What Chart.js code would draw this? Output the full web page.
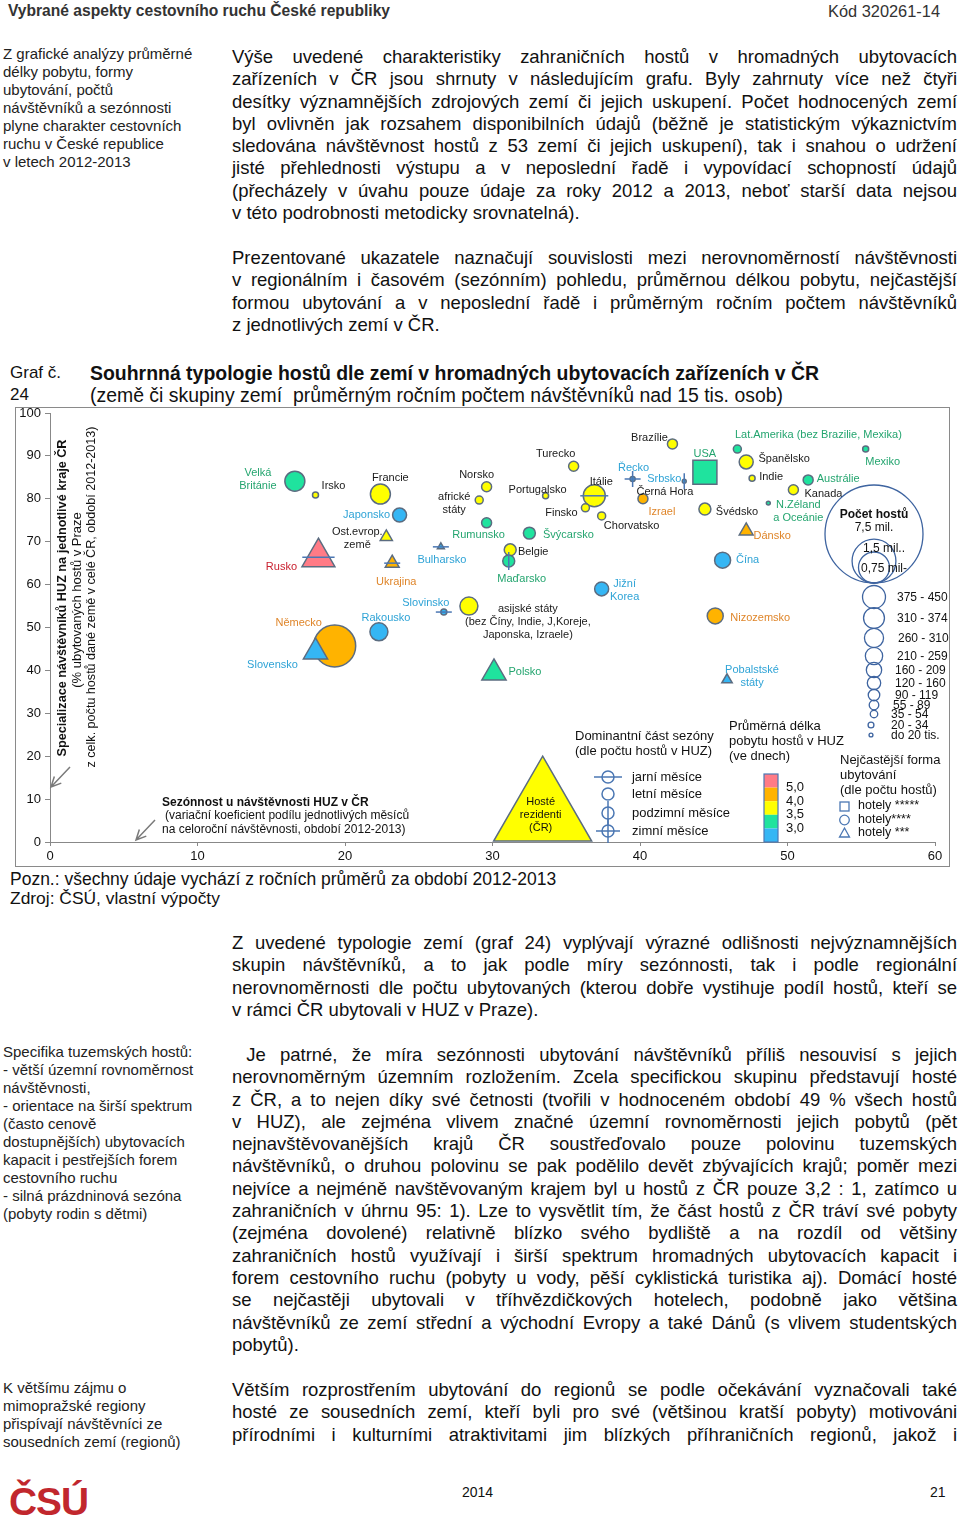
<!DOCTYPE html>
<html>
<head>
<meta charset="utf-8">
<script src="https://cdn.jsdelivr.net/npm/chart.js@4.4.1/dist/chart.umd.min.js"></script>
<style>
body{margin:0;width:960px;height:1525px;position:relative;overflow:hidden;background:#fff;color:#111;font-family:"Liberation Sans",Arial,sans-serif}
.a{position:absolute;white-space:nowrap}
.par{position:absolute;left:232px;width:725px;font-size:18.5px;line-height:22.3px;color:#111}
.par div{text-align:justify;text-align-last:justify;white-space:nowrap}
.par div.l{text-align-last:left}
.side{position:absolute;left:3px;font-size:15px;line-height:18px;color:#222;white-space:nowrap}
#frame{position:absolute;left:15px;top:407px;width:935px;height:460px;border:1px solid #8a8a8a;box-sizing:border-box}
#chart{position:absolute;left:0;top:0}
</style>
</head>
<body>

<div class="a" style="left:8px;top:2px;font:bold 15px/18px 'Liberation Sans';color:#333" data-w="382">Vybrané aspekty cestovního ruchu České republiky</div>
<div class="a" style="left:828px;top:2px;font:15px/18px 'Liberation Sans';color:#333" data-w="112">Kód  320261-14</div>

<div class="side" style="top:45px">Z grafické analýzy průměrné<br>délky pobytu, formy<br>ubytování, počtů<br>návštěvníků a sezónnosti<br>plyne charakter cestovních<br>ruchu v České republice<br>v letech 2012-2013</div>

<div class="par" style="top:46px">
<div>Výše uvedené charakteristiky zahraničních hostů v hromadných ubytovacích</div>
<div>zařízeních v ČR jsou shrnuty v následujícím grafu. Byly zahrnuty více než čtyři</div>
<div>desítky významnějších zdrojových zemí či jejich uskupení. Počet hodnocených zemí</div>
<div>byl ovlivněn jak rozsahem disponibilních údajů (běžně je statistickým výkaznictvím</div>
<div>sledována návštěvnost hostů z 53 zemí či jejich uskupení), tak i snahou o udržení</div>
<div>jisté přehlednosti výstupu a v neposlední řadě i vypovídací schopností údajů</div>
<div>(přecházely v úvahu pouze údaje za roky 2012 a 2013, neboť starší data nejsou</div>
<div class="l">v této podrobnosti metodicky srovnatelná).</div>
</div>

<div class="par" style="top:247px">
<div>Prezentované ukazatele naznačují souvislosti mezi nerovnoměrností návštěvnosti</div>
<div>v regionálním i časovém (sezónním) pohledu, průměrnou délkou pobytu, nejčastější</div>
<div>formou ubytování a v neposlední řadě i průměrným ročním počtem návštěvníků</div>
<div class="l">z jednotlivých zemí v ČR.</div>
</div>

<div class="a" style="left:10px;top:362px;font:17px/21.5px 'Liberation Sans'">Graf č.<br>24</div>
<div class="a" style="left:90px;top:362px;font:bold 17px/22px 'Liberation Sans'" data-w="729">Souhrnná typologie hostů dle zemí v hromadných ubytovacích zařízeních v ČR</div>
<div class="a" style="left:90px;top:384px;font:17px/22px 'Liberation Sans'" data-w="693">(země či skupiny zemí&nbsp; průměrným ročním počtem návštěvníků nad 15 tis. osob)</div>

<div id="frame"><canvas id="chart" width="933" height="458"></canvas></div>

<div class="a" style="left:10px;top:870px;font:16px/19px 'Liberation Sans'" data-w="546">Pozn.: všechny údaje vychází z ročních průměrů za období 2012-2013</div>
<div class="a" style="left:10px;top:889px;font:16px/19px 'Liberation Sans'" data-w="210">Zdroj: ČSÚ, vlastní výpočty</div>

<div class="par" style="top:932px">
<div>Z uvedené typologie zemí (graf 24) vyplývají výrazné odlišnosti nejvýznamnějších</div>
<div>skupin návštěvníků, a to jak podle míry sezónnosti, tak i podle regionální</div>
<div>nerovnoměrnosti dle počtu ubytovaných (kterou dobře vystihuje podíl hostů, kteří se</div>
<div class="l">v rámci ČR ubytovali v HUZ v Praze).</div>
</div>

<div class="side" style="top:1043px">Specifika tuzemských hostů:<br>- větší územní rovnoměrnost<br>návštěvnosti,<br>- orientace na širší spektrum<br>(často cenově<br>dostupnějších) ubytovacích<br>kapacit i pestřejších forem<br>cestovního ruchu<br>- silná prázdninová sezóna<br>(pobyty rodin s dětmi)</div>

<div class="par" style="top:1044px">
<div>&nbsp;Je patrné, že míra sezónnosti ubytování návštěvníků příliš nesouvisí s jejich</div>
<div>nerovnoměrným územním rozložením. Zcela specifickou skupinu představují hosté</div>
<div>z ČR, a to nejen díky své četnosti (tvořili v hodnoceném období 49 % všech hostů</div>
<div>v HUZ), ale zejména vlivem značné územní rovnoměrnosti jejich pobytů (pět</div>
<div>nejnavštěvovanějších krajů ČR soustřeďovalo pouze polovinu tuzemských</div>
<div>návštěvníků, o druhou polovinu se pak podělilo devět zbývajících krajů; poměr mezi</div>
<div>nejvíce a nejméně navštěvovaným krajem byl u hostů z ČR pouze 3,2 : 1, zatímco u</div>
<div>zahraničních v úhrnu 95: 1). Lze to vysvětlit tím, že část hostů z ČR tráví své pobyty</div>
<div>(zejména dovolené) relativně blízko svého bydliště a na rozdíl od většiny</div>
<div>zahraničních hostů využívají i širší spektrum hromadných ubytovacích kapacit i</div>
<div>forem cestovního ruchu (pobyty u vody, pěší cyklistická turistika aj). Domácí hosté</div>
<div>se nejčastěji ubytovali v tříhvězdičkových hotelech, podobně jako většina</div>
<div>návštěvníků ze zemí střední a východní Evropy a také Dánů (s vlivem studentských</div>
<div class="l">pobytů).</div>
</div>

<div class="side" style="top:1379px">K většímu zájmu o<br>mimopražské regiony<br>přispívají návštěvníci ze<br>sousedních zemí (regionů)</div>

<div class="par" style="top:1379px">
<div>Větším rozprostřením ubytování do regionů se podle očekávání vyznačovali také</div>
<div>hosté ze sousedních zemí, kteří byli pro své (většinou kratší pobyty) motivováni</div>
<div>přírodními i kulturními atraktivitami jim blízkých příhraničních regionů, jakož i</div>
</div>

<div class="a" style="left:9px;top:1481px;font:bold 42px/42px 'Liberation Sans';color:#c1272d;letter-spacing:-1px" data-w="79">ČSÚ</div>
<div class="a" style="left:462px;top:1484px;font:14px/16px 'Liberation Sans'">2014</div>
<div class="a" style="left:930px;top:1484px;font:14px/16px 'Liberation Sans'">21</div>

<script>
// hodnoty (období 2012-2013)
const countries = ['Hosté\nrezidenti\n(ČR)', 'Velká\nBritánie', 'Irsko', 'Francie', 'Japonsko', 'Ost.evrop.\nzemě',
  'Rusko', 'Ukrajina', 'Bulharsko', 'Slovinsko', 'Rakousko', 'Německo', 'Slovensko', 'Norsko', 'africké\nstáty',
  'Rumunsko', 'Portugalsko', 'Turecko', 'Itálie', 'Finsko', 'Chorvatsko', 'Švýcarsko', 'Belgie', 'Maďarsko',
  'Jižní\nKorea', 'asijské státy\n(bez Číny, Indie, J,Koreje,\nJaponska, Izraele)', 'Polsko', 'Brazílie', 'Řecko',
  'Srbsko', 'Černá Hora', 'Izrael', 'USA', 'Švédsko', 'Lat.Amerika (bez Brazilie, Mexika)', 'Španělsko', 'Indie',
  'Austrálie', 'Mexiko', 'Kanada', 'N.Zéland\na Oceánie', 'Dánsko', 'Čína', 'Nizozemsko', 'Pobalstské\nstáty'];
// x: sezónnost (variační koeficient)
const seasonality = [33.4, 16.6, 18.0, 22.4, 23.7, 22.8, 18.2, 23.2, 26.5, 26.7, 22.3, 19.3, 18.0, 29.6, 29.1,
  29.6, 33.6, 35.5, 36.9, 36.3, 37.4, 32.5, 31.2, 31.1, 37.4, 28.4, 30.1, 42.2, 39.5,
  43.0, 40.2, 40.2, 44.4, 44.4, 46.6, 47.2, 47.6, 51.4, 55.3, 50.4, 48.7, 47.2, 45.6, 45.1, 45.9];
// y: podíl hostů ubytovaných v Praze (%)
const pragueShare = [6.8, 84.1, 80.9, 81.1, 76.2, 71.1, 66.4, 65.0, 68.8, 53.6, 49.0, 45.7, 44.3, 82.8, 79.7,
  74.4, 80.7, 87.6, 80.7, 77.9, 76.0, 72.0, 68.1, 65.5, 59.0, 55.0, 39.4, 92.8, 84.6,
  84.1, 80.0, 80.0, 86.2, 77.6, 91.6, 88.6, 84.8, 84.4, 91.6, 82.1, 79.0, 72.5, 65.7, 52.7, 37.8];
// počet hostů za rok (tis.)
const guestsThs = [10000, 312, 28, 312, 153, 153, 1128, 200, 50, 28, 253, 1378, 612, 78, 50,
  78, 28, 78, 378, 50, 50, 112, 112, 112, 153, 253, 612, 78, 20,
  12, 12, 78, 900, 112, 50, 153, 28, 78, 28, 78, 12, 200, 200, 200, 112];
// průměrná délka pobytu: 0 = pod 3,0; 1 = 3,0-3,5; 2 = 3,5-4,0; 3 = 4,0-5,0; 4 = nad 5,0
const stayBand = [2, 1, 2, 2, 0, 2, 4, 3, 0, 0, 0, 3, 0, 2, 2,
  1, 2, 2, 2, 2, 2, 1, 2, 1, 0, 2, 1, 2, 0,
  0, 2, 3, 1, 2, 1, 2, 2, 1, 1, 2, 1, 3, 0, 3, 0];
// nejčastější forma ubytování
const lodging = ['h3', 'h4', 'h4', 'h4', 'h4', 'h3', 'h3', 'h3', 'h3', 'h4', 'h4', 'h4', 'h3', 'h4', 'h4',
  'h4', 'h4', 'h4', 'h4', 'h4', 'h4', 'h4', 'h4', 'h4', 'h4', 'h4', 'h3', 'h4', 'h4',
  'h4', 'h4', 'h4', 'h5', 'h4', 'h4', 'h4', 'h4', 'h4', 'h4', 'h4', 'h4', 'h3', 'h4', 'h4', 'h3'];
// dominantní část sezóny
const season = ['leto', 'leto', 'leto', 'leto', 'leto', 'leto', 'jaro', 'jaro', 'jaro', 'jaro', 'leto', 'leto', 'leto', 'leto', 'leto',
  'leto', 'leto', 'leto', 'jaro', 'leto', 'leto', 'leto', 'leto', 'podzim', 'leto', 'leto', 'leto', 'leto', 'zima',
  'podzim', 'leto', 'leto', 'leto', 'leto', 'leto', 'leto', 'leto', 'leto', 'leto', 'leto', 'leto', 'leto', 'leto', 'leto', 'leto'];

const seasonKeys = ['jaro', 'leto', 'podzim', 'zima'];
const seasonNames = ['jarní měsíce', 'letní měsíce', 'podzimní měsíce', 'zimní měsíce'];
const stayTicks = ['5,0', '4,0', '3,5', '3,0'];
const lodgingNames = ['hotely *****', 'hotely****', 'hotely ***'];
const sizeRef = [7500, 1500, 750];
const sizeClasses = ['375 - 450', '310 - 374', '260 - 310', '210 - 259', '160 - 209', '120 - 160', '90 - 119', '55 - 89', '35 - 54', '20 - 34', 'do 20 tis.'];
const sizeClassMid = [412, 342, 285, 234, 184, 140, 104, 72, 44, 27, 12];

// rozložení popisků (posun od značky v px)
const labelAt = [[-2, 2], [-37, -2], [18, -9], [10, -16], [-33, 0], [-29, 1], [-37, 10], [4, 19], [1, 13], [-18, -9],
  [7, -14], [-36, -23], [-43, 13], [-10, -12], [-25, 3], [-8, 12], [-8, -6], [-18, -12], [7, -14], [-24, 5],
  [30, 10], [39, 2], [23, 2], [13, 18], [23, 2], [59, 16], [31, -1], [-23, -6], [1, -11], [-20, -2],
  [22, -7], [19, 13], [0, -18], [32, 3], [81, -14], [38, -3], [19, -1], [30, -1], [17, 13], [30, 4],
  [30, 8], [26, 5], [25, 0], [45, 2], [25, -3.5]];

const FONT = '"Liberation Sans", Arial, sans-serif';
const bandFill = ['#35b6f4', '#1fe39e', '#ffff00', '#ffb300', '#ff7b86'];
const bandText = ['#2ea3d6', '#24a56f', '#1a1a1a', '#df8529', '#c9202f'];
const shapeOf = { h5: 'rect', h4: 'circle', h3: 'triangle' };
const markBlue = '#4b77b3';
const radiusOf = g => 49 * Math.sqrt(g / 7500);

function seasonMarks(c, x, y, key, L) {
  c.beginPath();
  if (key === 'jaro' || key === 'zima') { c.moveTo(x - L, y); c.lineTo(x + L, y); }
  if (key === 'podzim' || key === 'zima') { c.moveTo(x, y - L); c.lineTo(x, y + L); }
  c.stroke();
}

function text(c, s, x, y, font, color, align, maxW) {
  c.font = font;
  c.fillStyle = color || '#111';
  c.textAlign = align || 'left';
  c.textBaseline = 'middle';
  if (maxW) c.fillText(s, x, y, maxW); else c.fillText(s, x, y);
}

function arrow(c, x1, y1, x2, y2) {
  const a = Math.atan2(y2 - y1, x2 - x1);
  c.beginPath();
  c.moveTo(x1, y1); c.lineTo(x2, y2);
  c.moveTo(x2 - 11 * Math.cos(a - 0.45), y2 - 11 * Math.sin(a - 0.45)); c.lineTo(x2, y2);
  c.lineTo(x2 - 11 * Math.cos(a + 0.45), y2 - 11 * Math.sin(a + 0.45));
  c.stroke();
}

const marksPlugin = {
  id: 'marks',
  afterDatasetsDraw(chart) {
    const c = chart.ctx;
    const meta = chart.getDatasetMeta(0);
    c.save();
    c.strokeStyle = markBlue;
    c.lineWidth = 1.5;
    meta.data.forEach((el, i) => {
      const r = el.options.radius;
      const L = Math.max(lodging[i] === 'h3' ? r * 0.85 : r + 3, 8);
      seasonMarks(c, el.x, el.y, season[i], L);
    });
    meta.data.forEach((el, i) => {
      const lines = countries[i].split('\n');
      const [dx, dy] = labelAt[i];
      const lh = 13;
      const y0 = el.y + dy - (lines.length - 1) * lh / 2;
      lines.forEach((ln, k) => text(c, ln, el.x + dx, y0 + k * lh, '11px ' + FONT, i === 0 ? '#111' : bandText[stayBand[i]], 'center'));
    });
    c.restore();
  },
  afterDraw(chart) {
    const c = chart.ctx;
    c.save();
    c.translate(-16, -408); // souřadnice stránky
    // popis osy y
    [['Specializace návštěvníků HUZ na jednotlivé kraje ČR', 62, 598, 'bold 13px ' + FONT, 317],
     ['(% ubytovaných hostů v Praze', 77, 600, '13px ' + FONT, 180],
     ['z celk. počtu hostů dané země v celé ČR, období 2012-2013)', 91, 597, '13px ' + FONT, 341]].forEach(([s, x, y, f, w]) => {
      c.save(); c.translate(x, y); c.rotate(-Math.PI / 2);
      text(c, s, 0, 0, f, '#111', 'center', w);
      c.restore();
    });
    // popis osy x
    text(c, 'Sezónnost u návštěvnosti HUZ v ČR', 162, 803, 'bold 12px ' + FONT, '#111', 'left', 219);
    text(c, '(variační koeficient podílu jednotlivých měsíců', 165, 816, '12px ' + FONT, '#111', 'left', 260);
    text(c, 'na celoroční návštěvnosti, období 2012-2013)', 162, 830, '12px ' + FONT, '#111', 'left', 258);
    c.strokeStyle = '#7a7a7a'; c.lineWidth = 1.5;
    arrow(c, 70, 767, 51, 787);
    arrow(c, 155, 820, 136, 840);

    // legenda sezóny
    text(c, 'Dominantní část sezóny', 575, 736, '13px ' + FONT, '#111', 'left', 141);
    text(c, '(dle počtu hostů v HUZ)', 575, 751, '13px ' + FONT, '#111', 'left', 137);
    const sy = [777, 794, 813, 831];
    c.strokeStyle = markBlue; c.lineWidth = 1.5;
    seasonKeys.forEach((k, i) => {
      c.beginPath(); c.arc(608, sy[i], 6, 0, Math.PI * 2); c.stroke();
      seasonMarks(c, 608, sy[i], k, k === 'jaro' ? 14 : 12);
      text(c, seasonNames[i], 632, sy[i], '13px ' + FONT, '#111', 'left', [70, 70, 98, 77][i]);
    });

    // legenda délky pobytu
    text(c, 'Průměrná délka', 729, 726, '13px ' + FONT, '#111', 'left', 93);
    text(c, 'pobytu hostů v HUZ', 729, 741, '13px ' + FONT, '#111', 'left', 117);
    text(c, '(ve dnech)', 729, 756, '13px ' + FONT, '#111', 'left', 61);
    const bh = 68 / 5;
    for (let k = 0; k < 5; k++) {
      c.fillStyle = bandFill[4 - k];
      c.fillRect(764, 774 + k * bh, 14, bh);
    }
    c.strokeStyle = markBlue; c.lineWidth = 1.2;
    c.strokeRect(764, 774, 14, 68);
    stayTicks.forEach((s, k) => text(c, s, 786, 774 + (k + 1) * bh, '13px ' + FONT, '#111', 'left'));

    // legenda formy ubytování
    text(c, 'Nejčastější forma', 840, 760, '13px ' + FONT, '#111', 'left', 104);
    text(c, 'ubytování', 840, 775, '13px ' + FONT, '#111', 'left', 59);
    text(c, '(dle počtu hostů)', 840, 790, '13px ' + FONT, '#111', 'left', 99);
    c.strokeStyle = markBlue; c.lineWidth = 1.3;
    c.strokeRect(840, 802, 9, 9);
    c.beginPath(); c.arc(844.5, 820, 4.8, 0, Math.PI * 2); c.stroke();
    c.beginPath(); c.moveTo(844.5, 828); c.lineTo(849.5, 837); c.lineTo(839.5, 837); c.closePath(); c.stroke();
    lodgingNames.forEach((s, k) => text(c, s, 858, [806, 820, 833][k], '12.5px ' + FONT, '#111', 'left'));

    // legenda počtu hostů
    c.strokeStyle = '#3e64a0'; c.lineWidth = 1.3;
    sizeRef.forEach(g => { const r = radiusOf(g); c.beginPath(); c.arc(874, 583 - r, r, 0, Math.PI * 2); c.stroke(); });
    text(c, 'Počet hostů', 874, 515, 'bold 12px ' + FONT, '#111', 'center');
    text(c, '7,5 mil.', 874, 528, '12px ' + FONT, '#111', 'center');
    text(c, '1,5 mil..', 863, 549, '12px ' + FONT, '#111', 'left');
    text(c, '0,75 mil-', 861, 569, '12px ' + FONT, '#111', 'left');
    const cy = [597, 618, 638, 656, 670, 683, 695, 705, 714, 725, 735];
    const lx = [897, 897, 898, 897, 895, 895, 895, 893, 891, 891, 891];
    sizeClassMid.forEach((g, k) => {
      const r = radiusOf(g);
      c.beginPath(); c.arc(k > 8 ? 871 : 874, cy[k], r, 0, Math.PI * 2); c.stroke();
      text(c, sizeClasses[k], lx[k], cy[k] + 0.5, '12px ' + FONT, '#111', 'left');
    });
    c.restore();
  }
};

new Chart(document.getElementById('chart'), {
  type: 'bubble',
  data: {
    datasets: [{
      data: countries.map((n, i) => ({ x: seasonality[i], y: pragueShare[i], r: radiusOf(guestsThs[i]) })),
      backgroundColor: ctx => bandFill[stayBand[ctx.dataIndex]],
      borderColor: '#5b6c80',
      borderWidth: 1.5,
      pointStyle: ctx => shapeOf[lodging[ctx.dataIndex]],
      clip: false
    }]
  },
  options: {
    responsive: false,
    animation: false,
    events: [],
    layout: { autoPadding: false, padding: { top: 5, right: 14, left: 0, bottom: 0 } },
    plugins: { legend: { display: false }, tooltip: { enabled: false } },
    scales: {
      x: {
        type: 'linear', min: 0, max: 60,
        ticks: { stepSize: 10, color: '#111', font: { family: FONT, size: 13 }, padding: 3 },
        grid: { drawOnChartArea: false, tickLength: 4, color: '#888' },
        border: { color: '#888' },
        afterFit(s) { s.height = 24; s.paddingLeft = 0; s.paddingRight = 0; }
      },
      y: {
        type: 'linear', min: 0, max: 100,
        ticks: { stepSize: 10, color: '#111', font: { family: FONT, size: 13 }, padding: 4 },
        grid: { drawOnChartArea: false, tickLength: 5, color: '#888' },
        border: { color: '#888' },
        afterFit(s) { s.width = 34; s.paddingTop = 0; s.paddingBottom = 0; }
      }
    }
  },
  plugins: [marksPlugin]
});

// dorovnání šířek textů
document.querySelectorAll('[data-w]').forEach(el => {
  const w = +el.dataset.w;
  for (let k = 0; k < 3; k++) {
    const fs = parseFloat(getComputedStyle(el).fontSize);
    el.style.fontSize = (fs * w / el.getBoundingClientRect().width) + 'px';
  }
});
// řádky odstavců: pokud se nevejdou, mírně zúžit proložení písmen
document.querySelectorAll('.par div').forEach(el => {
  const span = document.createElement('span');
  span.textContent = el.textContent;
  el.textContent = '';
  el.appendChild(span);
  const w = span.getBoundingClientRect().width;
  if (w > 723) el.style.letterSpacing = ((723 - w) / span.textContent.length) + 'px';
  el.style.whiteSpace = 'normal';
});
</script>
</body>
</html>
